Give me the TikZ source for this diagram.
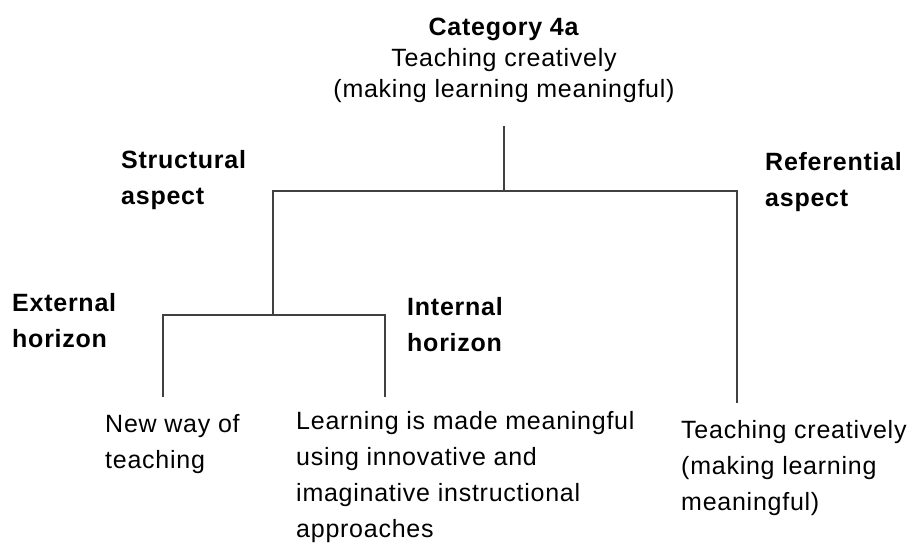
\documentclass[tikz,border=0pt]{standalone}
\usepackage{fontspec}
\setmainfont{Liberation Sans}[LetterSpace=3]
\begin{document}
\begin{tikzpicture}[x=1pt,y=-1pt,
  lbl/.style={anchor=base west, inner sep=0pt, align=left, font=\fontsize{25}{36}\selectfont},
  blbl/.style={lbl, font=\fontsize{25}{36}\selectfont\bfseries},
  tree/.style={draw=black!75, line width=1.6pt, line join=miter}]
\useasboundingbox (0,0) rectangle (913,547);
% texts (anchored at the baseline of their last line)
\node[anchor=base, inner sep=0pt, align=center, font=\fontsize{25}{31}\selectfont] (cat) at (504,97)
  {\textbf{Category 4a}\\Teaching creatively\\(making learning meaningful)};
\node[blbl] (struct) at (121,204) {Structural\\aspect};
\node[blbl] (refer) at (765,206) {Referential\\aspect};
\node[blbl] (ext) at (12,347) {External\\horizon};
\node[blbl] (int) at (407,351) {Internal\\horizon};
\node[lbl] (newway) at (105,468) {New way of\\teaching};
\node[lbl] (learn) at (296,537) {Learning is made meaningful\\using innovative and\\imaginative instructional\\approaches};
\node[lbl] (teach) at (681,510) {Teaching creatively\\(making learning\\meaningful)};
% junction coordinates
\coordinate (topend) at (504,126);
\coordinate (topj) at (504,191);
\coordinate (mainL) at (273,191);
\coordinate (mainR) at (737,191);
\coordinate (refend) at (737,403);
\coordinate (subj) at (273,315);
\coordinate (subL) at (163,315);
\coordinate (subR) at (385,315);
\coordinate (extend) at (163,397);
\coordinate (intend) at (385,397);
% tree
\draw[tree] (topend) -- (topj);
\draw[tree] (subj) -- (mainL) -- (mainR) -- (refend);
\draw[tree] (extend) -- (subL) -- (subR) -- (intend);
\end{tikzpicture}
\end{document}
